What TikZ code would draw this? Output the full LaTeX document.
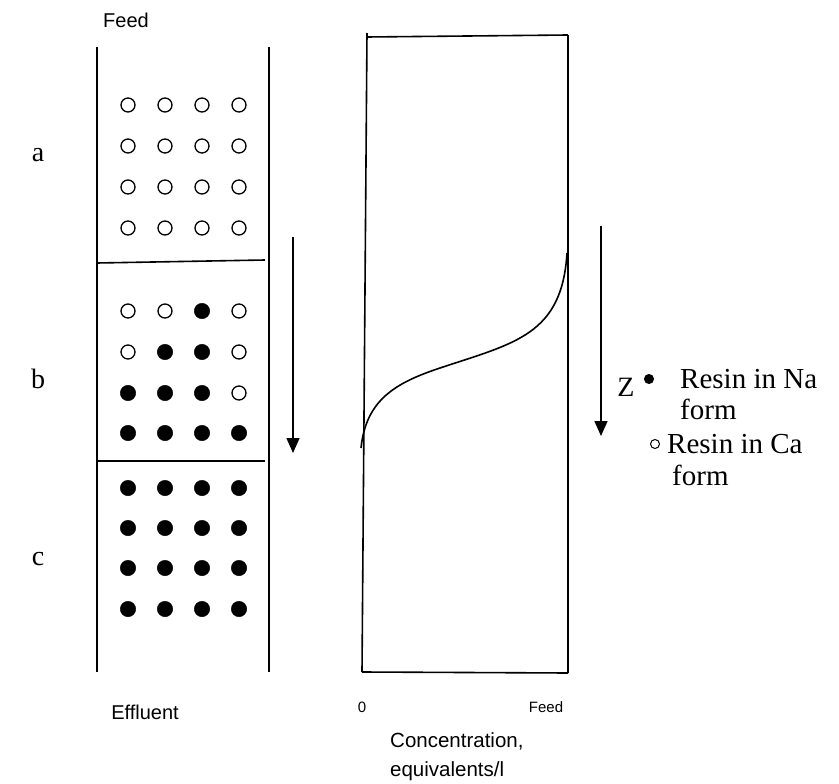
\documentclass[tikz,border=0pt]{standalone}
\usepackage{fontspec}
\setmainfont{Liberation Serif}
\setsansfont{Liberation Sans}
\usetikzlibrary{arrows.meta}

\begin{document}
\begin{tikzpicture}[x=1pt, y=-1pt]

    \useasboundingbox (0,0) rectangle (839,784);

    \tikzset{nadot/.style={draw,shape=circle,fill=black,inner sep=0pt,minimum size=15.5pt}}
    \tikzset{cadot/.style={draw,shape=circle,line width=1.3pt,inner sep=0pt,minimum size=14pt}}
    \tikzset{keydot/.style={draw,shape=circle,line width=1pt,inner sep=0pt,minimum size=9pt}}
    \tikzset{sanslabel/.style={inner sep=0pt,font=\sffamily\fontsize{20}{24}\selectfont}}
    \tikzset{seriflabel/.style={inner sep=0pt,font=\fontsize{28}{32}\selectfont}}
    \tikzset{keylabel/.style={inner sep=0pt,anchor=west,font=\fontsize{29}{32}\selectfont}}
    \tikzset{wall/.style={line width=1.6pt}}
    \tikzset{zarrow/.style={line width=1.6pt,-{Triangle[length=15pt,width=13pt]}}}

    % Column
    \coordinate (k1) at ( 97, 47);
    \coordinate (k2) at ( 97,672);
    \coordinate (k3) at (269, 47);
    \coordinate (k4) at (269,672);
    \coordinate (s1) at ( 97,263);
    \coordinate (s2) at (265,260);
    \coordinate (s3) at ( 97,461);
    \coordinate (s4) at (265,461);

    \begin{scope}[every path/.style={wall}]
        \draw (k1) -- (k2);
        \draw (k3) -- (k4);
        \draw (s1) -- (s2);
        \draw (s3) -- (s4);
    \end{scope}

    % zone a
    \node[cadot] (a11) at (128,105) {};
    \node[cadot] (a12) at (165,105) {};
    \node[cadot] (a13) at (202,105) {};
    \node[cadot] (a14) at (239,105) {};
    \node[cadot] (a21) at (128,146) {};
    \node[cadot] (a22) at (165,146) {};
    \node[cadot] (a23) at (202,146) {};
    \node[cadot] (a24) at (239,146) {};
    \node[cadot] (a31) at (128,187) {};
    \node[cadot] (a32) at (165,187) {};
    \node[cadot] (a33) at (202,187) {};
    \node[cadot] (a34) at (239,187) {};
    \node[cadot] (a41) at (128,228) {};
    \node[cadot] (a42) at (165,228) {};
    \node[cadot] (a43) at (202,228) {};
    \node[cadot] (a44) at (239,228) {};

    % zone b
    \node[cadot] (b11) at (128,311) {};
    \node[cadot] (b12) at (165,311) {};
    \node[nadot] (b13) at (202,311) {};
    \node[cadot] (b14) at (239,311) {};
    \node[cadot] (b21) at (128,352) {};
    \node[nadot] (b22) at (165,352) {};
    \node[nadot] (b23) at (202,352) {};
    \node[cadot] (b24) at (239,352) {};
    \node[nadot] (b31) at (128,393) {};
    \node[nadot] (b32) at (165,393) {};
    \node[nadot] (b33) at (202,393) {};
    \node[cadot] (b34) at (239,393) {};
    \node[nadot] (b41) at (128,433) {};
    \node[nadot] (b42) at (165,433) {};
    \node[nadot] (b43) at (202,433) {};
    \node[nadot] (b44) at (239,433) {};

    % zone c
    \node[nadot] (c11) at (128,488) {};
    \node[nadot] (c12) at (165,488) {};
    \node[nadot] (c13) at (202,488) {};
    \node[nadot] (c14) at (239,488) {};
    \node[nadot] (c21) at (128,528) {};
    \node[nadot] (c22) at (165,528) {};
    \node[nadot] (c23) at (202,528) {};
    \node[nadot] (c24) at (239,528) {};
    \node[nadot] (c31) at (128,568) {};
    \node[nadot] (c32) at (165,568) {};
    \node[nadot] (c33) at (202,568) {};
    \node[nadot] (c34) at (239,568) {};
    \node[nadot] (c41) at (128,609) {};
    \node[nadot] (c42) at (165,609) {};
    \node[nadot] (c43) at (202,609) {};
    \node[nadot] (c44) at (239,609) {};

    \node[sanslabel] (feedtop) at (126, 20) {Feed};
    \node[sanslabel] (effluent) at (145,712) {Effluent};
    \node[seriflabel] (la) at (38,155) {a};
    \node[seriflabel] (lb) at (38,379) {b};
    \node[seriflabel] (lc) at (38,559) {c};

    % Concentration profile
    \coordinate (p1) at (367, 33);
    \coordinate (p2) at (367, 37);
    \coordinate (p3) at (568, 35);
    \coordinate (p4) at (362,672);
    \coordinate (p5) at (568,673);
    \coordinate (q0) at (361,448);
    \coordinate (qm) at (440,368);
    \coordinate (q1) at (567,253);

    \begin{scope}[every path/.style={wall}]
        \draw (p1) -- (p4);
        \draw (p2) -- (p3);
        \draw (p3) -- (p5);
        \draw (p4) -- (p5);
        \draw (q0) .. controls (366,400) and (395,383) .. (qm)
                   .. controls (515,343) and (562,335) .. (q1);
    \end{scope}

    \node[sanslabel,font=\sffamily\fontsize{15}{18}\selectfont] (zero) at (362,707) {0};
    \node[sanslabel,font=\sffamily\fontsize{15}{18}\selectfont] (feedbot) at (546,707) {Feed};
    \node[sanslabel,anchor=west,align=left,font=\sffamily\fontsize{20.5}{29}\selectfont] (conc) at (390,757) {Concentration,\\equivalents/l};

    % Flow direction
    \coordinate (z1) at (293,237);
    \coordinate (z2) at (293,453);
    \coordinate (z3) at (601,226);
    \coordinate (z4) at (601,436);
    \draw[zarrow] (z1) -- (z2);
    \draw[zarrow] (z3) -- (z4);

    % Legend
    \node[seriflabel] (zl) at (626,387) {Z};
    \node[keydot,fill=black] (nakey) at (649,379) {};
    \node[keylabel] (natext) at (680,379) {Resin in Na};
    \node[keylabel] (naform) at (680,409) {form};
    \node[keydot] (cakey) at (655,444) {};
    \node[keylabel] (catext) at (667,444) {Resin in Ca};
    \node[keylabel] (caform) at (672,475) {form};

\end{tikzpicture}
\end{document}
